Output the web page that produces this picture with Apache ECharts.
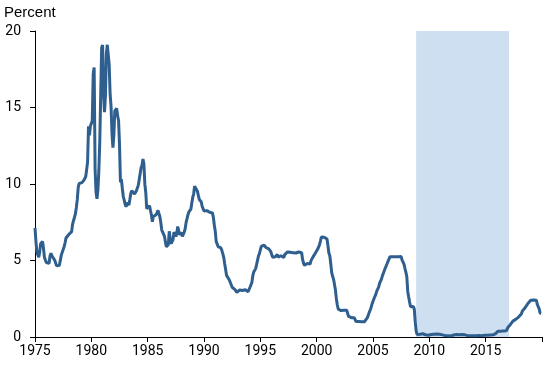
<!DOCTYPE html>
<html>
<head>
<meta charset="utf-8">
<script src="https://cdn.jsdelivr.net/npm/echarts@6/dist/echarts.min.js"></script>
<style>html,body{margin:0;padding:0;background:#fff}#c{width:550px;height:365px}</style>
</head>
<body>
<div id="c"></div>
<script>
// Monthly values, starting January of startYear
var startYear = 1975;
var rates1970s = [
7.13,6.24,5.54,5.49,5.22,5.55,6.10,6.14,6.24,5.82,5.22,5.20,
4.87,4.77,4.84,4.82,5.29,5.48,5.31,5.29,5.25,5.02,4.95,4.65,
4.61,4.68,4.69,4.73,5.35,5.39,5.42,5.90,6.14,6.47,6.51,6.56,
6.70,6.78,6.79,6.89,7.36,7.60,7.81,8.04,8.45,8.96,9.76,10.03,
10.07,10.06,10.09,10.01,10.24,10.29,10.47,10.94,11.43,13.77,13.18,13.78];
var rates1980s = [
13.82,14.13,17.19,17.61,10.98,9.47,9.03,9.61,10.87,12.81,15.85,18.90,
19.08,15.93,14.70,15.72,18.52,19.10,19.04,17.82,15.87,15.08,13.31,12.37,
13.22,14.78,14.68,14.94,14.45,14.15,12.59,10.12,10.31,9.71,9.20,8.95,
8.68,8.51,8.77,8.80,8.63,8.98,9.37,9.56,9.45,9.48,9.34,9.47,
9.56,9.59,9.91,10.29,10.32,11.06,11.23,11.64,11.30,9.99,9.43,8.38,
8.35,8.50,8.58,8.27,7.97,7.53,7.88,7.90,7.92,7.99,8.05,8.27,
8.14,7.86,7.48,6.99,6.85,6.92,6.56,6.17,5.89,5.85,6.04,6.91,
6.43,6.10,6.13,6.37,6.85,6.73,6.58,6.73,7.22,7.29,6.69,6.77,
6.83,6.58,6.58,6.87,7.09,7.51,7.75,8.01,8.19,8.30,8.35,8.76,
9.12,9.36,9.85,9.84,9.81,9.53,9.24,8.99,9.02,8.84,8.55,8.45];
var rates1990s = [
8.23,8.24,8.28,8.26,8.18,8.29,8.15,8.13,8.20,8.11,7.81,7.31,
6.91,6.25,6.12,5.91,5.78,5.90,5.82,5.66,5.45,5.21,4.81,4.43,
4.03,4.06,3.98,3.73,3.82,3.76,3.25,3.30,3.22,3.10,3.09,2.92,
3.02,3.03,3.07,2.96,3.00,3.04,3.06,3.03,3.09,2.99,3.02,2.96,
3.05,3.25,3.34,3.56,4.01,4.25,4.26,4.47,4.73,4.76,5.29,5.45,
5.53,5.92,5.98,6.05,6.01,6.00,5.85,5.74,5.80,5.76,5.80,5.60,
5.56,5.22,5.31,5.22,5.24,5.27,5.40,5.22,5.30,5.24,5.31,5.29,
5.25,5.19,5.39,5.51,5.50,5.56,5.52,5.54,5.54,5.50,5.52,5.50,
5.56,5.51,5.49,5.45,5.49,5.56,5.54,5.55,5.51,5.07,4.83,4.68,
4.63,4.76,4.81,4.74,4.74,4.76,4.99,5.07,5.22,5.20,5.42,5.30];
var rates2000s = [
5.45,5.73,5.85,6.02,6.27,6.53,6.54,6.50,6.52,6.51,6.51,6.40,
5.98,5.49,5.31,4.80,4.21,3.97,3.77,3.65,3.07,2.49,2.09,1.82,
1.73,1.74,1.73,1.75,1.75,1.75,1.73,1.74,1.75,1.75,1.34,1.24,
1.24,1.26,1.25,1.26,1.26,1.22,1.01,1.03,1.01,1.01,1.00,0.98,
1.00,1.01,1.00,1.00,1.00,1.03,1.26,1.43,1.61,1.76,1.93,2.16,
2.28,2.50,2.63,2.79,3.00,3.04,3.26,3.50,3.62,3.78,4.00,4.16,
4.29,4.49,4.59,4.79,4.94,4.99,5.24,5.25,5.25,5.25,5.25,5.24,
5.25,5.26,5.26,5.25,5.25,5.25,5.26,5.02,4.94,4.76,4.49,4.24,
3.94,2.98,2.61,2.28,1.98,2.00,2.01,2.00,1.81,0.97,0.39,0.16,
0.15,0.22,0.18,0.15,0.18,0.21,0.16,0.16,0.15,0.12,0.12,0.12];
var rates2010s = [
0.11,0.13,0.16,0.20,0.20,0.18,0.18,0.19,0.19,0.19,0.19,0.18,
0.17,0.16,0.14,0.10,0.09,0.09,0.07,0.10,0.08,0.07,0.08,0.07,
0.08,0.10,0.13,0.14,0.16,0.16,0.16,0.13,0.14,0.16,0.16,0.16,
0.14,0.15,0.14,0.15,0.11,0.09,0.09,0.08,0.08,0.09,0.08,0.09,
0.07,0.07,0.08,0.09,0.09,0.10,0.09,0.09,0.09,0.09,0.09,0.12,
0.11,0.11,0.11,0.12,0.12,0.13,0.13,0.14,0.14,0.12,0.12,0.24,
0.34,0.38,0.36,0.37,0.37,0.38,0.39,0.40,0.40,0.40,0.41,0.54,
0.65,0.66,0.79,0.90,0.91,1.04,1.15,1.16,1.15,1.15,1.16,1.30,
1.41,1.42,1.51,1.69,1.70,1.82,1.91,1.91,1.95,2.19,2.20,2.27,
2.40,2.40,2.41,2.42,2.39,2.38,2.40,2.13,2.04,1.83,1.55,1.55];
var shadeRange = [2008.83, 2017.07];
var xTicks = [1975, 1980, 1985, 1990, 1995, 2000, 2005, 2010, 2015];
var yTicks = [0, 5, 10, 15, 20];

var all = rates1970s.concat(rates1980s, rates1990s, rates2000s, rates2010s);
var seriesData = all.map(function (v, i) { return [startYear + i / 12, v]; });

var font = 'Roboto, "Liberation Sans", sans-serif';
var chart = echarts.init(document.getElementById('c'), null, {renderer: 'canvas'});
chart.setOption({
  animation: false,
  grid: {left: 35, right: 8, top: 31, bottom: 28, containLabel: false},
  title: {text: 'Percent', left: 4, top: 5, padding: 0, textStyle: {fontFamily: '"Liberation Sans", Arial, sans-serif', fontSize: 15, fontWeight: 'normal', color: '#000'}},
  xAxis: {
    type: 'value', min: 1975, max: 2020, interval: 5,
    axisLine: {show: true, lineStyle: {color: '#000', width: 1}},
    axisTick: {show: true, length: 5, lineStyle: {color: '#000'}},
    splitLine: {show: false},
    axisLabel: {margin: 7, fontFamily: font, fontSize: 14, color: '#000',
      formatter: function (v) { return xTicks.indexOf(v) >= 0 ? String(v) : ''; }}
  },
  yAxis: {
    type: 'value', min: yTicks[0], max: yTicks[yTicks.length - 1], interval: 5,
    axisLine: {show: true, lineStyle: {color: '#000', width: 1}},
    axisTick: {show: true, length: 5, lineStyle: {color: '#000'}},
    splitLine: {show: false},
    axisLabel: {margin: 14, fontFamily: font, fontSize: 14, color: '#000'}
  },
  series: [{
    type: 'line', data: seriesData, showSymbol: false, symbol: 'none',
    lineStyle: {color: '#2e5f8e', width: 3}, z: 3,
    markArea: {silent: true, itemStyle: {color: '#cddff0'}, z: 1,
      data: [[{xAxis: shadeRange[0]}, {xAxis: shadeRange[1]}]]}
  }]
});
</script>
</body>
</html>
